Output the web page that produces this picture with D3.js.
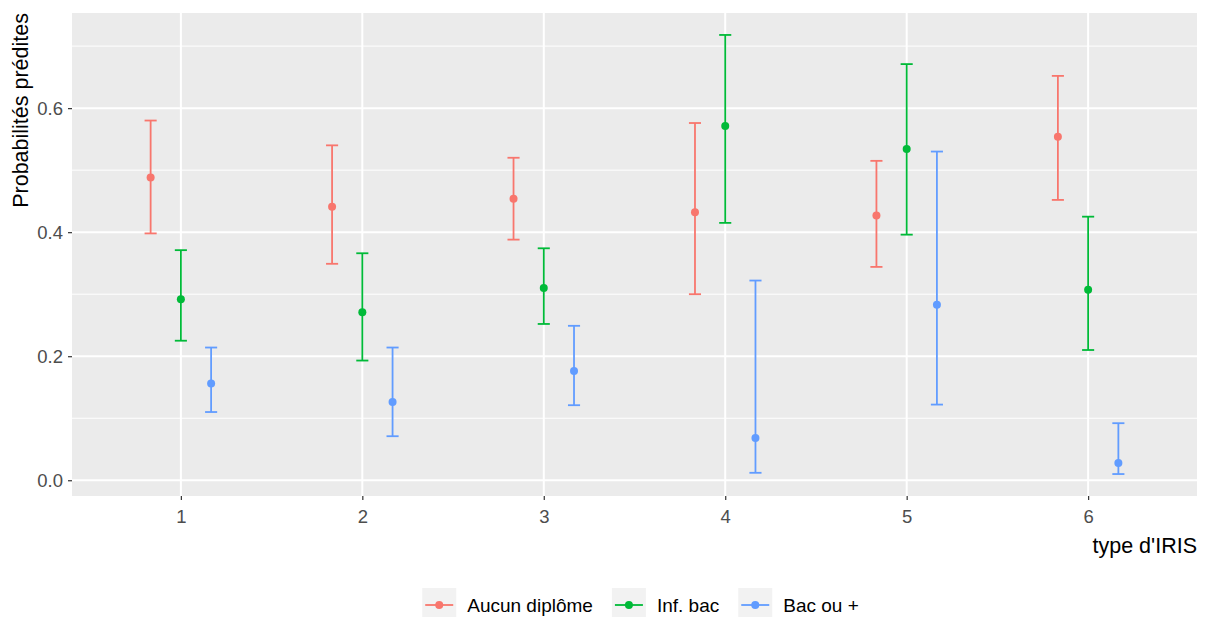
<!DOCTYPE html>
<html>
<head>
<meta charset="utf-8">
<script src="https://cdnjs.cloudflare.com/ajax/libs/d3/7.8.5/d3.min.js"></script>
<style>
  html, body { margin: 0; padding: 0; background: #ffffff; }
  svg { display: block; font-family: "Liberation Sans", Arial, sans-serif; }
</style>
</head>
<body>
<svg id="chart" width="1205" height="617"></svg>
<script>
// ---- data ----
const categories = ["1", "2", "3", "4", "5", "6"];
const groups = ["Aucun diplôme", "Inf. bac", "Bac ou +"];
const colors = ["#F8766D", "#00BA38", "#619CFF"];

const aucunEst  = [0.488, 0.441, 0.454, 0.432, 0.427, 0.554];
const aucunLow  = [0.398, 0.349, 0.388, 0.300, 0.344, 0.452];
const aucunHigh = [0.580, 0.540, 0.520, 0.576, 0.515, 0.652];

const infEst  = [0.292, 0.271, 0.310, 0.571, 0.534, 0.307];
const infLow  = [0.225, 0.193, 0.252, 0.415, 0.396, 0.210];
const infHigh = [0.371, 0.366, 0.374, 0.718, 0.671, 0.425];

const bacEst  = [0.156, 0.126, 0.176, 0.068, 0.283, 0.028];
const bacLow  = [0.110, 0.071, 0.121, 0.012, 0.122, 0.010];
const bacHigh = [0.214, 0.214, 0.249, 0.322, 0.530, 0.092];

const yTicks = [0, 0.2, 0.4, 0.6];
const yMinor = [0.1, 0.3, 0.5, 0.7];
const xTitle = "type d'IRIS";
const yTitle = "Probabilités prédites";

const seriesEst = [aucunEst, infEst, bacEst];
const seriesLow = [aucunLow, infLow, bacLow];
const seriesHigh = [aucunHigh, infHigh, bacHigh];

// ---- layout ----
const panel = { left: 72, right: 1197, top: 13, bottom: 496 };
const svg = d3.select("#chart");

const allLow = d3.min(seriesLow.flat());
const allHigh = d3.max(seriesHigh.flat());
const pad = (allHigh - allLow) * 0.05;

const x = d3.scaleLinear().domain([0.4, categories.length + 0.6]).range([panel.left, panel.right]);
const y = d3.scaleLinear().domain([allLow - pad, allHigh + pad]).range([panel.bottom, panel.top]);

const dodge = 0.5 / groups.length;   // offset between groups
const capHalf = (0.2 / groups.length) / 2;

// panel background
svg.append("rect")
  .attr("x", panel.left).attr("y", panel.top)
  .attr("width", panel.right - panel.left).attr("height", panel.bottom - panel.top)
  .attr("fill", "#EBEBEB");

// minor grid
svg.append("g").selectAll("line").data(yMinor).join("line")
  .attr("x1", panel.left).attr("x2", panel.right)
  .attr("y1", d => y(d)).attr("y2", d => y(d))
  .attr("stroke", "#ffffff").attr("stroke-width", 1);

// major grid
svg.append("g").selectAll("line").data(yTicks).join("line")
  .attr("x1", panel.left).attr("x2", panel.right)
  .attr("y1", d => y(d)).attr("y2", d => y(d))
  .attr("stroke", "#ffffff").attr("stroke-width", 2);
svg.append("g").selectAll("line").data(categories).join("line")
  .attr("x1", (d, i) => x(i + 1)).attr("x2", (d, i) => x(i + 1))
  .attr("y1", panel.top).attr("y2", panel.bottom)
  .attr("stroke", "#ffffff").attr("stroke-width", 2);

// axes
const yAxis = d3.axisLeft(y).tickValues(yTicks).tickFormat(d3.format(".1f")).tickSize(4).tickPadding(5);
const gy = svg.append("g").attr("transform", `translate(${panel.left},0)`).call(yAxis);
gy.select(".domain").remove();
gy.selectAll(".tick line").attr("stroke", "#333333").attr("stroke-width", 1.2);
gy.selectAll(".tick text").attr("fill", "#4D4D4D").style("font-size", "18.5px")
  .style("font-family", "'Liberation Sans', Arial, sans-serif");

const xAxis = d3.axisBottom(x).tickValues(categories.map((c, i) => i + 1))
  .tickFormat((d, i) => categories[i]).tickSize(4).tickPadding(9.5);
const gx = svg.append("g").attr("transform", `translate(0,${panel.bottom})`).call(xAxis);
gx.select(".domain").remove();
gx.selectAll(".tick line").attr("stroke", "#333333").attr("stroke-width", 1.2);
gx.selectAll(".tick text").attr("fill", "#4D4D4D").style("font-size", "18.5px")
  .style("font-family", "'Liberation Sans', Arial, sans-serif");

// error bars + points
groups.forEach((g, gi) => {
  const off = (gi - 1) * dodge;
  const data = categories.map((c, i) => ({
    xv: i + 1 + off, est: seriesEst[gi][i], lo: seriesLow[gi][i], hi: seriesHigh[gi][i]
  }));
  const grp = svg.append("g").attr("stroke", colors[gi]).attr("stroke-width", 1.8);
  grp.selectAll("line.v").data(data).join("line").attr("class", "v")
    .attr("x1", d => x(d.xv)).attr("x2", d => x(d.xv))
    .attr("y1", d => y(d.lo)).attr("y2", d => y(d.hi));
  grp.selectAll("line.t").data(data).join("line").attr("class", "t")
    .attr("x1", d => x(d.xv - capHalf)).attr("x2", d => x(d.xv + capHalf))
    .attr("y1", d => y(d.hi)).attr("y2", d => y(d.hi));
  grp.selectAll("line.b").data(data).join("line").attr("class", "b")
    .attr("x1", d => x(d.xv - capHalf)).attr("x2", d => x(d.xv + capHalf))
    .attr("y1", d => y(d.lo)).attr("y2", d => y(d.lo));
  svg.append("g").selectAll("circle").data(data).join("circle")
    .attr("cx", d => x(d.xv)).attr("cy", d => y(d.est)).attr("r", 4)
    .attr("fill", colors[gi]);
});

// axis titles
svg.append("text")
  .attr("x", panel.right).attr("y", 553)
  .attr("text-anchor", "end").attr("fill", "#000")
  .style("font-size", "21.5px").text(xTitle);

svg.append("text")
  .attr("transform", `translate(28,${panel.top}) rotate(-90)`)
  .attr("text-anchor", "end").attr("fill", "#000")
  .style("font-size", "21.5px").text(yTitle);

// legend
const legend = svg.append("g");
const keyW = 34, keyH = 34, keyTextGap = 11, itemGap = 19;
let cx = 0;
groups.forEach((g, gi) => {
  const it = legend.append("g");
  it.append("rect").attr("x", 0).attr("y", -keyH / 2).attr("width", keyW).attr("height", keyH).attr("fill", "#F2F2F2");
  it.append("line").attr("x1", 3).attr("x2", keyW - 3).attr("y1", 0).attr("y2", 0)
    .attr("stroke", colors[gi]).attr("stroke-width", 1.8);
  it.append("circle").attr("cx", keyW / 2).attr("cy", 0).attr("r", 4).attr("fill", colors[gi]);
  const t = it.append("text").attr("x", keyW + keyTextGap).attr("y", 7)
    .attr("fill", "#000").style("font-size", "19px").text(g);
  const w = t.node().getComputedTextLength();
  it.attr("transform", `translate(${cx},0)`);
  cx += keyW + keyTextGap + w + itemGap;
});
const totalW = cx - itemGap;
legend.attr("transform", `translate(${640.5 - totalW / 2},605)`);
</script>
</body>
</html>
